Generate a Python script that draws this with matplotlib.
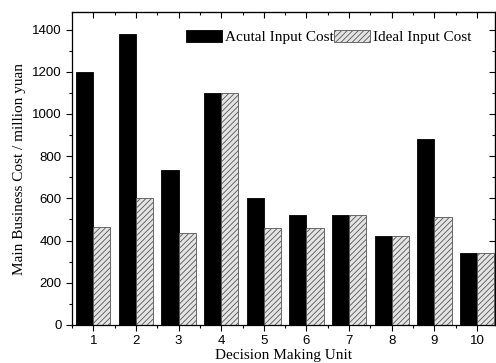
import matplotlib
matplotlib.use("Agg")
import matplotlib.pyplot as plt
import numpy as np
from matplotlib.ticker import MultipleLocator, FixedLocator

units = [1, 2, 3, 4, 5, 6, 7, 8, 9, 10]
actual = [1200, 1380, 735, 1100, 600, 520, 520, 420, 880, 340]
ideal = [463, 600, 437, 1100, 461, 461, 520, 420, 511, 340]
labels = ["Acutal Input Cost", "Ideal Input Cost"]

plt.rcParams['hatch.color'] = '#606060'
plt.rcParams['hatch.linewidth'] = 0.6

fig = plt.figure(figsize=(4.96, 3.63), dpi=100)
ax = fig.add_axes([0.145, 0.105, 0.853, 0.861])

x = np.array(units)
w = 0.4
ax.bar(x - w / 2, actual, width=w, color='black', edgecolor='black', linewidth=0.6, label=labels[0])
ax.bar(x + w / 2, ideal, width=w, color='#e4e4e4', edgecolor='#555555', linewidth=0.6,
       hatch='//////', label=labels[1])

ax.set_xlim(0.5, 10.42)
ax.set_ylim(0, 1482)
ax.set_xticks(units)
ax.xaxis.set_minor_locator(FixedLocator(np.arange(0.5, 11, 1)))
ax.yaxis.set_major_locator(MultipleLocator(200))
ax.yaxis.set_minor_locator(MultipleLocator(100))

ax.tick_params(axis='both', which='major', direction='out', length=4, width=0.8,
               labelsize=9.5, top=False, right=False)
ax.tick_params(axis='both', which='minor', direction='out', length=2.5, width=0.8)
for lab in ax.get_xticklabels() + ax.get_yticklabels():
    lab.set_family('Liberation Sans')

# mirrored inward ticks on top and right
axt = ax.secondary_xaxis('top')
axt.set_xticks(units)
axt.xaxis.set_minor_locator(FixedLocator(np.arange(0.5, 11, 1)))
axt.tick_params(which='major', direction='in', length=4, width=0.8, labeltop=False)
axt.tick_params(which='minor', direction='in', length=2.5, width=0.8)
axr = ax.secondary_yaxis('right')
axr.yaxis.set_major_locator(MultipleLocator(200))
axr.yaxis.set_minor_locator(MultipleLocator(100))
axr.tick_params(which='major', direction='in', length=4, width=0.8, labelright=False)
axr.tick_params(which='minor', direction='in', length=2.5, width=0.8)

for s in ax.spines.values():
    s.set_linewidth(0.9)

ax.set_xlabel("Decision Making Unit", family='Liberation Serif', fontsize=11, labelpad=1)
ax.set_ylabel("Main Business Cost / million yuan", family='Liberation Serif', fontsize=11, labelpad=4)

leg = ax.legend(loc='upper left', bbox_to_anchor=(0.2695, 0.945), ncol=2, frameon=False,
                prop={'family': 'Liberation Serif', 'size': 11}, handlelength=2.35,
                handleheight=0.85, columnspacing=0.0, handletextpad=0.2, borderaxespad=0.0,
                borderpad=0.0)

fig.savefig("out.png", dpi=100)
